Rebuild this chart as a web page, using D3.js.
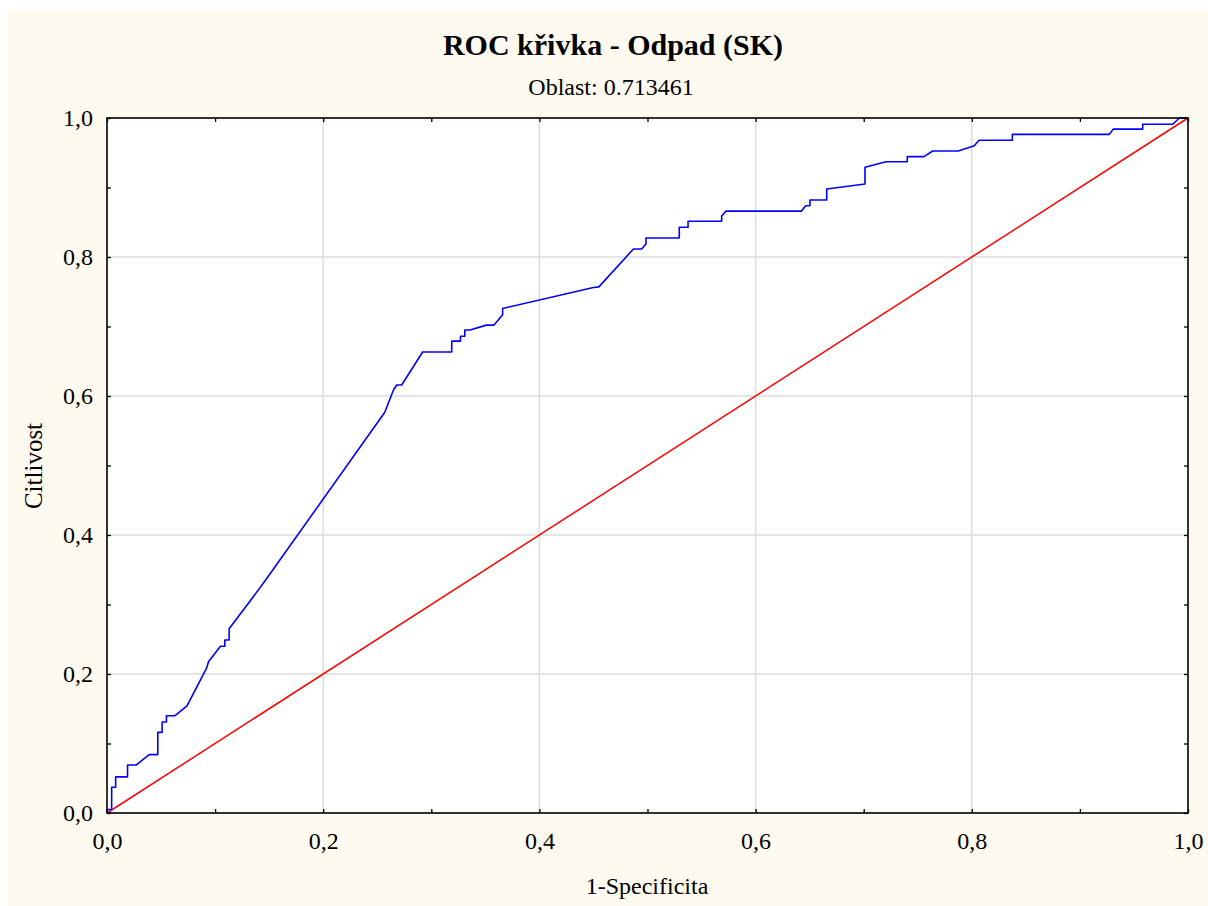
<!DOCTYPE html>
<html>
<head>
<meta charset="utf-8">
<script src="https://cdn.jsdelivr.net/npm/d3@7/dist/d3.min.js"></script>
<style>
  html, body { margin: 0; padding: 0; background: #ffffff; }
  svg { display: block; }
  text { font-family: "Liberation Serif", "Times New Roman", "DejaVu Serif", serif; fill: #000; }
</style>
</head>
<body>
<svg id="chart" width="1208" height="906"></svg>
<script>
// ROC curve points: false positive rate (1 - specificity) and true positive rate (sensitivity)
const fprValues = [
  0, 0, 0.0043, 0.0043, 0.008, 0.008, 0.019, 0.019, 0.027, 0.039,
  0.047, 0.047, 0.051, 0.051, 0.055, 0.055, 0.063, 0.074, 0.092, 0.094,
  0.105, 0.109, 0.109, 0.113, 0.113, 0.1446, 0.257, 0.265, 0.268, 0.2726,
  0.292, 0.3189, 0.3189, 0.327, 0.327, 0.331, 0.331, 0.3358, 0.351, 0.358,
  0.366, 0.366, 0.450, 0.455, 0.487, 0.4946, 0.4986, 0.4986, 0.5294, 0.5294,
  0.5375, 0.5375, 0.5686, 0.5686, 0.5726, 0.6423, 0.6463, 0.6503, 0.6503, 0.6658,
  0.6658, 0.7012, 0.7012, 0.7206, 0.7403, 0.7403, 0.7558, 0.7638, 0.7875, 0.8023,
  0.8067, 0.8375, 0.8375, 0.9272, 0.9309, 0.9581, 0.9581, 0.9859, 0.992, 1.0
];
const tprValues = [
  0, 0.005, 0.005, 0.037, 0.037, 0.052, 0.052, 0.069, 0.069, 0.084,
  0.084, 0.116, 0.116, 0.131, 0.131, 0.140, 0.140, 0.154, 0.208, 0.218,
  0.240, 0.240, 0.249, 0.249, 0.265, 0.3305, 0.5765, 0.6086, 0.6158, 0.6158,
  0.6633, 0.6633, 0.679, 0.679, 0.686, 0.686, 0.695, 0.695, 0.702, 0.702,
  0.717, 0.726, 0.756, 0.757, 0.8115, 0.8115, 0.8187, 0.8273, 0.8273, 0.8427,
  0.8427, 0.8514, 0.8514, 0.859, 0.866, 0.866, 0.8738, 0.8738, 0.882, 0.882,
  0.8978, 0.905, 0.929, 0.937, 0.937, 0.9444, 0.9444, 0.9525, 0.9525, 0.960,
  0.968, 0.968, 0.9765, 0.9765, 0.984, 0.984, 0.991, 0.991, 1.0, 1.0
];
// Reference diagonal (random classifier)
const diagonalX = [0, 1];
const diagonalY = [0, 1];

const labelTicks = [0, 0.2, 0.4, 0.6, 0.8, 1.0];
const minorTicks = [0, 0.1, 0.2, 0.3, 0.4, 0.5, 0.6, 0.7, 0.8, 0.9, 1.0];
const gridTicks = [0.2, 0.4, 0.6, 0.8];

const titleText = "ROC křivka - Odpad (SK)";
const subtitleText = "Oblast: 0.713461";
const xTitle = "1-Specificita";
const yTitle = "Citlivost";

const svg = d3.select("#chart");
const W = 1208, H = 906;
const margin = { left: 107, top: 118, right: W - 1188, bottom: H - 813 };
const iw = W - margin.left - margin.right;
const ih = H - margin.top - margin.bottom;

// Panel background
svg.append("rect").attr("x", 7).attr("y", 10).attr("width", W - 7).attr("height", H - 10)
  .attr("fill", "#fefaef");

const g = svg.append("g").attr("transform", `translate(${margin.left},${margin.top})`);

const x = d3.scaleLinear().domain([0, 1]).range([0, iw]);
const y = d3.scaleLinear().domain([0, 1]).range([ih, 0]);

g.append("rect").attr("width", iw).attr("height", ih).attr("fill", "#ffffff");

// Gridlines
g.selectAll(".gx").data(gridTicks).join("line")
  .attr("x1", d => x(d)).attr("x2", d => x(d)).attr("y1", 0).attr("y2", ih)
  .attr("stroke", "#dcdcdc").attr("stroke-width", 1.5);
g.selectAll(".gy").data(gridTicks).join("line")
  .attr("y1", d => y(d)).attr("y2", d => y(d)).attr("x1", 0).attr("x2", iw)
  .attr("stroke", "#dcdcdc").attr("stroke-width", 1.5);

const fmt = d => labelTicks.some(t => Math.abs(t - d) < 1e-9) ? d3.format(".1f")(d).replace(".", ",") : "";

function styleAxis(sel) {
  sel.select(".domain").remove();
  sel.selectAll(".tick line").attr("stroke", "#000").attr("stroke-width", 1.3);
  sel.selectAll(".tick text").style("font-size", "24px")
    .style("font-family", '"Liberation Serif", "Times New Roman", serif').attr("fill", "#000");
}

g.append("g").attr("transform", `translate(0,${ih})`)
  .call(d3.axisBottom(x).tickValues(minorTicks).tickSize(-4).tickPadding(19).tickFormat(fmt))
  .call(styleAxis);
g.append("g")
  .call(d3.axisLeft(y).tickValues(minorTicks).tickSize(-4).tickPadding(14).tickFormat(fmt))
  .call(styleAxis);
g.append("g")
  .call(d3.axisTop(x).tickValues(minorTicks).tickSize(-4).tickFormat(""))
  .call(styleAxis);
g.append("g").attr("transform", `translate(${iw},0)`)
  .call(d3.axisRight(y).tickValues(minorTicks).tickSize(-4).tickFormat(""))
  .call(styleAxis);

// Diagonal
const diag = d3.zip(diagonalX, diagonalY);
g.append("path").datum(diag)
  .attr("d", d3.line().x(d => x(d[0])).y(d => y(d[1])))
  .attr("fill", "none").attr("stroke", "#ff0000").attr("stroke-width", 1.5);

// ROC curve
const roc = d3.zip(fprValues, tprValues);
g.append("path").datum(roc)
  .attr("d", d3.line().x(d => x(d[0])).y(d => y(d[1])))
  .attr("fill", "none").attr("stroke", "#0000ff").attr("stroke-width", 1.6)
  .attr("stroke-linejoin", "round");

// Frame
g.append("rect").attr("width", iw).attr("height", ih)
  .attr("fill", "none").attr("stroke", "#000").attr("stroke-width", 1.6);

// Titles
svg.append("text").attr("x", 613).attr("y", 55).attr("text-anchor", "middle")
  .style("font-size", "30px").style("font-weight", "bold").text(titleText);
svg.append("text").attr("x", 611).attr("y", 95).attr("text-anchor", "middle")
  .style("font-size", "24px").text(subtitleText);
svg.append("text").attr("x", 647).attr("y", 894).attr("text-anchor", "middle")
  .style("font-size", "24px").text(xTitle);
svg.append("text").attr("transform", "translate(42,466) rotate(-90)").attr("text-anchor", "middle")
  .style("font-size", "25px").text(yTitle);
</script>
</body>
</html>
